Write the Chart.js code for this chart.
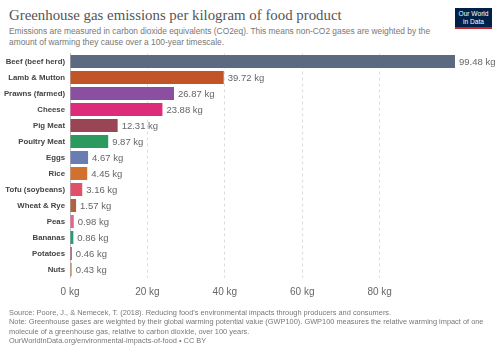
<!DOCTYPE html>
<html>
<head>
<meta charset="utf-8">
<script src="https://cdn.jsdelivr.net/npm/chart.js@4"></script>
<style>
  body { margin: 0; background: #fff; width: 500px; height: 353px; position: relative; overflow: hidden; font-family: "Liberation Sans", Arial, sans-serif; }
  .t { position: absolute; white-space: nowrap; }
  #title { left: 9px; top: 7px; font-family: "Liberation Serif", serif; font-size: 14.85px; color: #555; }
  #sub { left: 9px; top: 26px; font-size: 8.4px; color: #777; line-height: 10.5px; }
  #foot { left: 9px; top: 308px; font-size: 7.4px; color: #777; line-height: 9.3px; }
  #logo { position: absolute; left: 455px; top: 8px; width: 37px; height: 21px; background: #002147; border-bottom: 2px solid #c0272d; box-sizing: border-box; color: #fff; font-size: 6.6px; line-height: 8px; text-align: center; padding-top: 2px; }
  #wrap { position: absolute; left: 0; top: 50px; width: 500px; height: 260px; }
</style>
</head>
<body>
<div class="t" id="title">Greenhouse gas emissions per kilogram of food product</div>
<div class="t" id="sub">Emissions are measured in carbon dioxide equivalents (CO2eq). This means non-CO2 gases are weighted by the<br>amount of warming they cause over a 100-year timescale.</div>
<div id="logo">Our World<br>in Data</div>
<div id="wrap"><canvas id="chart"></canvas></div>
<div class="t" id="foot">Source: Poore, J., &amp; Nemecek, T. (2018). Reducing food's environmental impacts through producers and consumers.<br>Note: Greenhouse gases are weighted by their global warming potential value (GWP100). GWP100 measures the relative warming impact of one<br>molecule of a greenhouse gas, relative to carbon dioxide, over 100 years.<br>OurWorldInData.org/environmental-impacts-of-food • CC BY</div>
<script>
// data
var foods = ['Beef (beef herd)', 'Lamb & Mutton', 'Prawns (farmed)', 'Cheese', 'Pig Meat', 'Poultry Meat', 'Eggs', 'Rice', 'Tofu (soybeans)', 'Wheat & Rye', 'Peas', 'Bananas', 'Potatoes', 'Nuts'];
var emissions = [99.48, 39.72, 26.87, 23.88, 12.31, 9.87, 4.67, 4.45, 3.16, 1.57, 0.98, 0.86, 0.46, 0.43];
var barColors = ['#5b6a80', '#c15527', '#8a4fa0', '#dd2c7a', '#9a4553', '#2a9a5f', '#6a7db3', '#d2702f', '#e0506b', '#b0613f', '#e0688a', '#29996e', '#a24766', '#c48240'];
var xTicks = [0, 20, 40, 60, 80];

// value label at the end of each bar
var valueLabels = {
  id: 'valueLabels',
  afterDatasetsDraw: function(chart) {
    var c = chart.ctx;
    var meta = chart.getDatasetMeta(0);
    c.save();
    c.font = '9.5px "Liberation Sans", Arial, sans-serif';
    c.fillStyle = '#666';
    c.textBaseline = 'middle';
    meta.data.forEach(function(bar, i) {
      c.fillText(emissions[i].toFixed(2) + ' kg', bar.x + 4, bar.y + 0.5);
    });
    c.restore();
  }
};

var ctx = document.getElementById('chart').getContext('2d');
var myChart = new Chart(ctx, {
  type: 'bar',
  data: {
    labels: foods,
    datasets: [{
      data: emissions,
      backgroundColor: barColors,
      borderWidth: 0,
      categoryPercentage: 1,
      barPercentage: 0.8
    }]
  },
  options: {
    indexAxis: 'y',
    responsive: true,
    maintainAspectRatio: false,
    animation: false,
    layout: { padding: { top: 3.5, right: 45, bottom: 0, left: 0 } },
    plugins: { legend: { display: false }, tooltip: { enabled: false } },
    scales: {
      x: {
        min: 0,
        max: 99.48,
        afterBuildTicks: function(scale) {
          scale.ticks = xTicks.map(function(v) { return { value: v }; });
        },
        afterFit: function(scale) {
          scale.height = 32.5;
          scale.paddingLeft = 0; scale.paddingRight = 0;
        },
        grid: {
          color: function(c) { return c.tick && c.tick.value === 0 ? 'rgba(0,0,0,0)' : '#ddd'; },
          drawTicks: false
        },
        border: { display: false, dash: [3, 3] },
        ticks: {
          padding: 9,
          color: '#666',
          font: { family: '"Liberation Sans", Arial, sans-serif', size: 10 },
          callback: function(v) { return v + ' kg'; }
        }
      },
      y: {
        afterFit: function(scale) {
          scale.width = 70;
          scale.paddingTop = 0; scale.paddingBottom = 0;
        },
        grid: { display: false, drawTicks: false },
        border: { display: true, color: '#bbb', width: 1 },
        ticks: {
          padding: 5,
          color: '#444',
          font: { family: '"Liberation Sans", Arial, sans-serif', size: 7.8, weight: 'bold' }
        }
      }
    }
  },
  plugins: [valueLabels]
});
</script>
</body>
</html>
